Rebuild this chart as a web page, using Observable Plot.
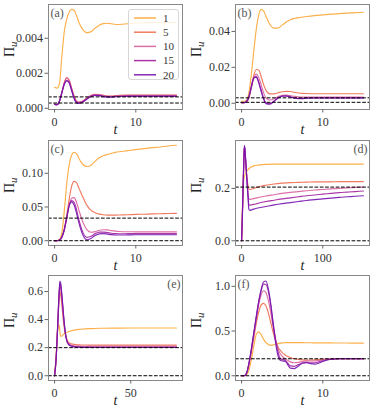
<!DOCTYPE html>
<html><head><meta charset="utf-8">
<script src="https://cdn.jsdelivr.net/npm/d3@7"></script>
<script src="https://cdn.jsdelivr.net/npm/@observablehq/plot@0.6"></script>
<style>
body{margin:0;background:#fff;}
#fig{position:relative;width:374px;height:413px;overflow:hidden}
#fig svg{position:absolute;overflow:visible}
#fig svg, #fig svg text, #fig svg tspan{font-family:"Liberation Serif","Times New Roman",serif !important}
</style></head><body><div id="fig"></div>
<script>
const seriesNames = ["1","5","10","15","20"];
const seriesColors = ["#fca636","#ee6c4e","#d9609c","#a1209e","#7412ae"];
const panelLetters = ["(a)","(b)","(c)","(d)","(e)","(f)"];

// panel (a)
const tA = [0,0.3,0.6,0.9,1.2,1.5,1.8,2.1,2.4,2.7,3.0,3.5,4.0,4.5,5.0,5.5,6.0,6.5,7.0,7.5,8,9,10,11,12,13,14,15];
const a1 = [0.0012,0.00115,0.0014,0.003,0.0044,0.0051,0.0055,0.00565,0.0056,0.0053,0.0049,0.00448,0.00432,0.00438,0.00458,0.00475,0.00484,0.00486,0.00483,0.00479,0.00479,0.00483,0.00487,0.00489,0.0049,0.0049,0.0049,0.0049];
const a5 = [0.00025,0.0002,0.0004,0.0009,0.00148,0.00175,0.0016,0.00115,0.0007,0.00042,0.00035,0.00042,0.0006,0.00074,0.0008,0.00079,0.00074,0.0007,0.0007,0.00072,0.00074,0.00075,0.00075,0.00075,0.00075,0.00075,0.00075,0.00075];
const a10 = [0.00025,0.0002,0.0004,0.0009,0.00146,0.00172,0.00158,0.00113,0.00068,0.0004,0.00034,0.00041,0.00059,0.00073,0.00079,0.00078,0.00073,0.00069,0.00069,0.00071,0.00073,0.00074,0.00074,0.00074,0.00074,0.00074,0.00074,0.00074];
const a15 = [0.00022,0.0002,0.0004,0.0009,0.0014,0.0016,0.00148,0.00105,0.0006,0.00034,0.0003,0.00038,0.00055,0.00069,0.00075,0.00074,0.00069,0.00066,0.00066,0.00068,0.00069,0.0007,0.0007,0.0007,0.0007,0.0007,0.0007,0.0007];
const a20 = [0.00022,0.0002,0.0004,0.0009,0.00137,0.00156,0.00144,0.001,0.00056,0.00031,0.00028,0.00036,0.00053,0.00067,0.00073,0.00072,0.00067,0.00064,0.00064,0.00066,0.00067,0.00068,0.00068,0.00068,0.00068,0.00068,0.00068,0.00068];
const dashA = [0.00065,0.0003];

// panel (b)
const tB = tA;
const b1 = [0.0011,0.0011,0.0015,0.006,0.016,0.029,0.041,0.049,0.0523,0.0515,0.0485,0.0437,0.0418,0.042,0.0435,0.0452,0.0465,0.0472,0.0477,0.048,0.0483,0.0488,0.0492,0.0496,0.0499,0.0502,0.0505,0.0507];
const b5 = [0.0003,0.0003,0.0008,0.003,0.009,0.0155,0.0188,0.0185,0.015,0.0105,0.0072,0.0052,0.0052,0.0058,0.0064,0.0066,0.0065,0.0061,0.0057,0.0055,0.0054,0.0053,0.0053,0.0053,0.0053,0.0053,0.0053,0.0053];
const b10 = [0.0003,0.0003,0.0008,0.003,0.0085,0.014,0.0162,0.0145,0.0105,0.006,0.003,0.0018,0.0025,0.0037,0.0044,0.0045,0.0042,0.0038,0.0035,0.0034,0.0034,0.0034,0.0034,0.0034,0.0034,0.0034,0.0034,0.0034];
const b15 = [0.0003,0.0003,0.0009,0.0035,0.009,0.014,0.0148,0.012,0.0075,0.003,0.0002,-0.0002,0.0012,0.003,0.004,0.0041,0.0036,0.003,0.0027,0.0027,0.0029,0.003,0.003,0.003,0.003,0.003,0.003,0.003];
const b20 = [0.0003,0.0003,0.001,0.0038,0.0093,0.0142,0.0145,0.0115,0.0068,0.0025,-0.0002,-0.0005,0.001,0.0029,0.0039,0.004,0.0035,0.0029,0.0026,0.0026,0.0028,0.0029,0.0029,0.0029,0.0029,0.0029,0.0029,0.0029];
const dashB = [0.003,0.0005];

// panel (c)
const tC = tA;
const c1 = [0,0,0.002,0.012,0.045,0.085,0.113,0.127,0.131,0.129,0.122,0.113,0.11,0.112,0.118,0.123,0.126,0.128,0.1295,0.131,0.132,0.1335,0.135,0.1365,0.138,0.139,0.1405,0.1415];
const c5 = [0,0,0.001,0.006,0.018,0.038,0.062,0.081,0.088,0.086,0.078,0.064,0.052,0.045,0.0415,0.0395,0.0385,0.038,0.038,0.038,0.0382,0.0385,0.039,0.0393,0.0397,0.04,0.0403,0.0405];
const c10 = [0,0,0.001,0.005,0.016,0.034,0.053,0.063,0.064,0.057,0.045,0.027,0.016,0.0125,0.0135,0.0155,0.0163,0.016,0.015,0.0142,0.0137,0.0133,0.0132,0.013,0.013,0.013,0.013,0.013];
const c15 = [0,0,0.001,0.005,0.016,0.034,0.052,0.0595,0.057,0.046,0.031,0.012,0.005,0.0065,0.0105,0.0127,0.0128,0.012,0.011,0.0105,0.0103,0.0104,0.0105,0.0105,0.0105,0.0105,0.0105,0.0105];
const c20 = [0,0,0.001,0.0055,0.017,0.035,0.052,0.0575,0.053,0.041,0.026,0.008,0.0012,0.0035,0.0078,0.0102,0.0105,0.0098,0.009,0.0085,0.0084,0.0086,0.0088,0.0088,0.0088,0.0088,0.0088,0.0088];
const dashC = [0.0335,0];

// panel (d)
const tD = [0,1,2,3,3.5,4,5,6,7,8,9,10,12,15,20,25,30,40,50,60,70,80,90,100,110,120,130,140,150];
const d1 = [0,0.12,0.21,0.24,0.245,0.25,0.257,0.263,0.268,0.272,0.275,0.278,0.282,0.286,0.289,0.291,0.292,0.293,0.293,0.293,0.293,0.293,0.293,0.293,0.293,0.293,0.293,0.293,0.293];
const d5 = [0,0.1,0.22,0.33,0.355,0.345,0.3,0.26,0.23,0.21,0.198,0.196,0.197,0.2,0.205,0.209,0.212,0.217,0.22,0.222,0.223,0.224,0.225,0.225,0.225,0.226,0.226,0.226,0.226];
const d10 = [0,0.1,0.22,0.33,0.36,0.35,0.31,0.26,0.215,0.18,0.16,0.158,0.159,0.161,0.165,0.168,0.171,0.176,0.181,0.185,0.188,0.191,0.194,0.196,0.198,0.2,0.202,0.204,0.205];
const d15 = [0,0.1,0.22,0.33,0.36,0.35,0.31,0.26,0.215,0.17,0.138,0.136,0.137,0.139,0.143,0.147,0.15,0.155,0.16,0.164,0.168,0.172,0.175,0.178,0.181,0.184,0.186,0.188,0.19];
const d20 = [0,0.1,0.22,0.33,0.365,0.355,0.31,0.26,0.21,0.16,0.12,0.116,0.118,0.121,0.125,0.128,0.131,0.137,0.142,0.146,0.15,0.154,0.157,0.16,0.163,0.166,0.168,0.17,0.172];
const dashD = [0.205,0];

// panel (e)
const tE = [0,1,2,3,3.5,4,5,6,7,8,9,10,12,14,16,18,20,25,30,40,50,60,70,80];
const e1 = [0,0.15,0.33,0.36,0.31,0.28,0.285,0.295,0.303,0.308,0.313,0.317,0.323,0.327,0.33,0.332,0.334,0.336,0.338,0.339,0.34,0.34,0.34,0.34];
const e5 = [0,0.12,0.33,0.55,0.6,0.58,0.48,0.37,0.3,0.26,0.24,0.232,0.225,0.222,0.22,0.219,0.219,0.218,0.218,0.218,0.218,0.218,0.218,0.218];
const e10 = [0,0.12,0.34,0.58,0.64,0.62,0.52,0.4,0.31,0.255,0.232,0.222,0.215,0.212,0.211,0.21,0.21,0.21,0.21,0.21,0.21,0.21,0.21,0.21];
const e15 = [0,0.12,0.35,0.59,0.66,0.645,0.54,0.41,0.31,0.25,0.227,0.217,0.21,0.207,0.206,0.205,0.205,0.205,0.205,0.205,0.205,0.205,0.205,0.205];
const e20 = [0,0.12,0.35,0.6,0.675,0.66,0.55,0.42,0.31,0.25,0.225,0.215,0.207,0.204,0.203,0.202,0.202,0.201,0.201,0.201,0.201,0.201,0.201,0.201];
const dashE = [0.2,0];

// panel (f)
const tF = [0,0.3,0.6,0.9,1.2,1.5,1.8,2.1,2.4,2.7,3.0,3.3,3.6,3.9,4.2,4.5,4.8,5.1,5.4,5.7,6.0,6.5,7.0,7.5,8.0,8.5,9.0,9.5,10,11,12,13,14,15];
const f1 = [0,0,0.01,0.06,0.18,0.33,0.46,0.49,0.46,0.41,0.37,0.35,0.34,0.345,0.355,0.36,0.365,0.368,0.37,0.37,0.37,0.37,0.37,0.37,0.369,0.369,0.368,0.368,0.367,0.367,0.366,0.366,0.365,0.365];
const f5 = [0,0,0.02,0.12,0.26,0.42,0.58,0.71,0.79,0.81,0.78,0.7,0.59,0.48,0.39,0.32,0.28,0.25,0.23,0.215,0.205,0.19,0.182,0.177,0.175,0.176,0.178,0.181,0.184,0.188,0.19,0.19,0.19,0.19];
const f10 = [0,0,0.02,0.13,0.28,0.46,0.63,0.79,0.9,0.95,0.93,0.84,0.7,0.54,0.4,0.3,0.24,0.21,0.19,0.17,0.155,0.145,0.15,0.16,0.165,0.165,0.165,0.17,0.178,0.187,0.19,0.19,0.19,0.19];
const f15 = [0,0,0.025,0.135,0.29,0.47,0.65,0.82,0.95,1.025,1.02,0.94,0.78,0.58,0.4,0.26,0.19,0.18,0.17,0.14,0.11,0.105,0.125,0.145,0.15,0.145,0.145,0.155,0.168,0.185,0.19,0.19,0.19,0.19];
const f20 = [0,0,0.03,0.14,0.3,0.48,0.66,0.83,0.96,1.05,1.06,0.97,0.8,0.57,0.36,0.22,0.17,0.165,0.16,0.12,0.085,0.08,0.11,0.14,0.145,0.135,0.13,0.14,0.16,0.185,0.19,0.19,0.19,0.19];
const dashF = [0.19,0];

const xTicksShort = [0,10], xTicksD = [0,100], xTicksE = [0,50];
const yTicksA = [0,0.002,0.004], yTicksB = [0,0.02,0.04], yTicksC = [0,0.05,0.1];
const yTicksD = [0,0.2], yTicksE = [0,0.2,0.4,0.6], yTicksF = [0,0.5,1.0];

const panels = [
  {t:tA, s:[a1,a5,a10,a15,a20], dash:dashA, xd:[-0.75,15.75], yd:[-0.00007,0.00593], xt:xTicksShort, yt:yTicksA, fmt:".3f", col:0, row:0, la:"top-left"},
  {t:tB, s:[b1,b5,b10,b15,b20], dash:dashB, xd:[-0.75,15.75], yd:[-0.0035,0.055], xt:xTicksShort, yt:yTicksB, fmt:".2f", col:1, row:0, la:"top-left"},
  {t:tC, s:[c1,c5,c10,c15,c20], dash:dashC, xd:[-0.75,15.75], yd:[-0.0071,0.1486], xt:xTicksShort, yt:yTicksC, fmt:".2f", col:0, row:1, la:"top-left"},
  {t:tD, s:[d1,d5,d10,d15,d20], dash:dashD, xd:[-7.5,157.5], yd:[-0.018,0.383], xt:xTicksD, yt:yTicksD, fmt:".1f", col:1, row:1, la:"top-right"},
  {t:tE, s:[e1,e5,e10,e15,e20], dash:dashE, xd:[-4,84], yd:[-0.034,0.714], xt:xTicksE, yt:yTicksE, fmt:".1f", col:0, row:2, la:"top-right"},
  {t:tF, s:[f1,f5,f10,f15,f20], dash:dashF, xd:[-0.75,15.75], yd:[-0.053,1.121], xt:xTicksShort, yt:yTicksF, fmt:".1f", col:1, row:2, la:"top-left"}
];
const rowGeo = [{top:0,h:135,mt:4,mb:26},{top:135,h:135,mt:5,mb:25},{top:270,h:143,mt:5,mb:33}];

const fig = document.getElementById("fig");
panels.forEach((p, k) => {
  const rows = [];
  p.s.forEach((vals, i) => vals.forEach((v, j) => rows.push({t: p.t[j], v, s: seriesNames[i]})));
  const g = rowGeo[p.row];
  const svg = Plot.plot({
    width: 187, height: g.h, marginLeft: 48, marginRight: 5, marginTop: g.mt, marginBottom: g.mb,
    style: "font-size: 12px; background: transparent; color: #333; overflow: visible;",
    x: {domain: p.xd},
    y: {domain: p.yd},
    color: {domain: seriesNames, range: seriesColors},
    marks: [
      Plot.line(rows, {x: "t", y: "v", z: "s", stroke: "s", strokeWidth: 1.15, strokeOpacity: 0.9, curve: "monotone-x"}),
      Plot.ruleY(p.dash, {stroke: "black", strokeWidth: 1, strokeDasharray: "3.7,1.6"}),
      Plot.frame({stroke: "#888", strokeWidth: 1}),
      Plot.axisX({ticks: p.xt, tickSize: 3.5, tickPadding: 4, stroke: "#666", fill: "#333", label: null, fontSize: 12}),
      Plot.axisY({ticks: p.yt, tickSize: 3.5, tickPadding: 2, stroke: "#666", fill: "#333", label: null, tickFormat: d3.format(p.fmt), fontSize: 12}),
      Plot.text([panelLetters[k]], {text: d => d, frameAnchor: p.la, dx: p.la === "top-left" ? 2 : -2, dy: 4, lineAnchor: "top", fill: "#555", fontSize: 12}),
      Plot.text(["t"], {text: d => d, frameAnchor: "bottom", dy: 24, fontStyle: "italic", fontSize: 14, fill: "#222"}),
      Plot.text(["Π"], {text: d => d, frameAnchor: "left", dx: -39, rotate: -90, fontSize: 14, fill: "#222"})
    ]
  });
  svg.style.left = (p.col * 187) + "px";
  svg.style.top = g.top + "px";
  d3.select(svg).selectAll("text").filter(function() { return this.textContent === "Π"; })
    .append("tspan").attr("font-style", "italic").attr("font-size", "11px").attr("dy", "0.3em").text("u");
  fig.appendChild(svg);
});

// legend in panel (a)
const leg = d3.select("#fig").append("div")
  .style("position", "absolute").style("left", "128px").style("top", "9px")
  .style("width", "51px").style("height", "71px").style("box-sizing", "border-box")
  .style("border", "1px solid #d6d6d6").style("border-radius", "3px")
  .style("background", "rgba(255,255,255,0.8)");
const lsvg = leg.append("svg").attr("width", 51).attr("height", 71).style("position", "absolute").style("left", "-1px").style("top", "-1px");
seriesNames.forEach((n, i) => {
  const y = 9 + i * 14.2;
  lsvg.append("line").attr("x1", 6).attr("x2", 28).attr("y1", y).attr("y2", y)
    .attr("stroke", seriesColors[i]).attr("stroke-width", 1.5).attr("stroke-opacity", 0.9);
  lsvg.append("text").attr("x", 35).attr("y", y).attr("dy", "0.35em")
    .attr("font-size", 11).attr("fill", "#333").text(n);
});
</script></body></html>
